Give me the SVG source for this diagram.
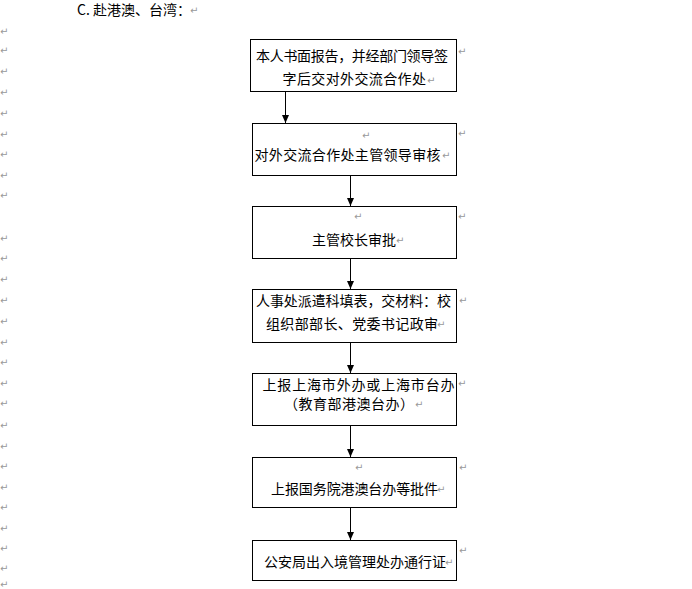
<svg xmlns="http://www.w3.org/2000/svg" width="692" height="589" viewBox="0 0 692 589">
<style>
.t{font-family:"Noto Sans CJK SC","Noto Sans CJK JP",sans-serif;font-size:14px;fill:#000}
.r{font-family:"DejaVu Sans",sans-serif;font-size:10px;fill:#999}
.box{fill:#fff;stroke:#000;stroke-width:1}
.ln{stroke:#000;stroke-width:1;fill:none}
</style>
<defs>
<marker id="ah" viewBox="0 0 8 7" refX="8" refY="3.5" markerWidth="8" markerHeight="7" orient="auto" markerUnits="userSpaceOnUse">
<path d="M0,0 L8,3.5 L0,7 z" fill="#000"/>
</marker>
</defs>
<rect width="692" height="589" fill="#fff"/>
<g id="title">
<text class="t" x="77" y="15">C. 赴港澳、台湾：</text>
<text class="r" x="190" y="14">↵</text>
</g>
<g id="margin-marks">
<text class="r" x="0" y="34.5">↵</text>
<text class="r" x="0" y="54">↵</text>
<text class="r" x="0" y="74.5">↵</text>
<text class="r" x="0" y="95.5">↵</text>
<text class="r" x="0" y="116.5">↵</text>
<text class="r" x="0" y="137.5">↵</text>
<text class="r" x="0" y="157.5">↵</text>
<text class="r" x="0" y="178.5">↵</text>
<text class="r" x="0" y="198.5">↵</text>
<text class="r" x="0" y="241.5">↵</text>
<text class="r" x="0" y="261.5">↵</text>
<text class="r" x="0" y="282.5">↵</text>
<text class="r" x="0" y="303.5">↵</text>
<text class="r" x="0" y="324.5">↵</text>
<text class="r" x="0" y="345.5">↵</text>
<text class="r" x="0" y="365.5">↵</text>
<text class="r" x="0" y="386.5">↵</text>
<text class="r" x="0" y="406.5">↵</text>
<text class="r" x="0" y="428.5">↵</text>
<text class="r" x="0" y="449.5">↵</text>
<text class="r" x="0" y="469.5">↵</text>
<text class="r" x="0" y="490.5">↵</text>
<text class="r" x="0" y="510.5">↵</text>
<text class="r" x="0" y="531.5">↵</text>
<text class="r" x="0" y="551.5">↵</text>
<text class="r" x="0" y="571.5">↵</text>
<text class="r" x="0" y="588">↵</text>
</g>
<g id="connectors">
<path class="ln" d="M285.5,91.5 V123" marker-end="url(#ah)"/>
<path class="ln" d="M350.5,175.5 V206" marker-end="url(#ah)"/>
<path class="ln" d="M350.5,258.5 V289" marker-end="url(#ah)"/>
<path class="ln" d="M350.5,342.5 V373" marker-end="url(#ah)"/>
<path class="ln" d="M350.5,425.5 V457" marker-end="url(#ah)"/>
<path class="ln" d="M350.5,507.5 V540" marker-end="url(#ah)"/>
</g>
<g id="node1">
<rect class="box" x="250.5" y="39.5" width="206" height="52"/>
<text class="t" x="256" y="61" textLength="192" lengthAdjust="spacing">本人书面报告，并经部门领导签</text>
<text class="t" x="282.5" y="84" textLength="143.5" lengthAdjust="spacing">字后交对外交流合作处</text>
<text class="r" x="427" y="84">↵</text>
<text class="r" x="458" y="54.5">↵</text>
</g>
<g id="node2">
<rect class="box" x="252.5" y="123.5" width="204" height="52"/>
<text class="r" x="362" y="138.5">↵</text>
<text class="t" x="254.5" y="160" textLength="186" lengthAdjust="spacing">对外交流合作处主管领导审核</text>
<text class="r" x="442" y="159">↵</text>
<text class="r" x="458" y="136.5">↵</text>
</g>
<g id="node3">
<rect class="box" x="252.5" y="206.5" width="204" height="52"/>
<text class="r" x="354" y="219.5">↵</text>
<text class="t" x="312" y="245" textLength="84" lengthAdjust="spacing">主管校长审批</text>
<text class="r" x="396" y="244">↵</text>
<text class="r" x="458" y="219.5">↵</text>
</g>
<g id="node4">
<rect class="box" x="252.5" y="289.5" width="204" height="53"/>
<text class="t" x="256" y="306" textLength="195" lengthAdjust="spacing">人事处派遣科填表，交材料：校</text>
<text class="t" x="266" y="329" textLength="172" lengthAdjust="spacing">组织部部长、党委书记政审</text>
<text class="r" x="437" y="328">↵</text>
<text class="r" x="459" y="303.5">↵</text>
</g>
<g id="node5">
<rect class="box" x="252.5" y="373.5" width="204" height="52"/>
<text class="t" x="262.5" y="389.5" textLength="192" lengthAdjust="spacing">上报上海市外办或上海市台办</text>
<text class="t" x="284" y="408.5" textLength="130" lengthAdjust="spacing">（教育部港澳台办）</text>
<text class="r" x="415" y="407.5">↵</text>
<text class="r" x="458" y="386.5">↵</text>
</g>
<g id="node6">
<rect class="box" x="252.5" y="457.5" width="204" height="50"/>
<text class="r" x="355" y="470.5">↵</text>
<text class="t" x="271" y="494" textLength="167" lengthAdjust="spacing">上报国务院港澳台办等批件</text>
<text class="r" x="437" y="493">↵</text>
<text class="r" x="459" y="470.5">↵</text>
</g>
<g id="node7">
<rect class="box" x="252.5" y="540.5" width="204" height="40"/>
<text class="t" x="264" y="567" textLength="182" lengthAdjust="spacing">公安局出入境管理处办通行证</text>
<text class="r" x="445" y="566">↵</text>
<text class="r" x="459" y="553.5">↵</text>
</g>
</svg>
